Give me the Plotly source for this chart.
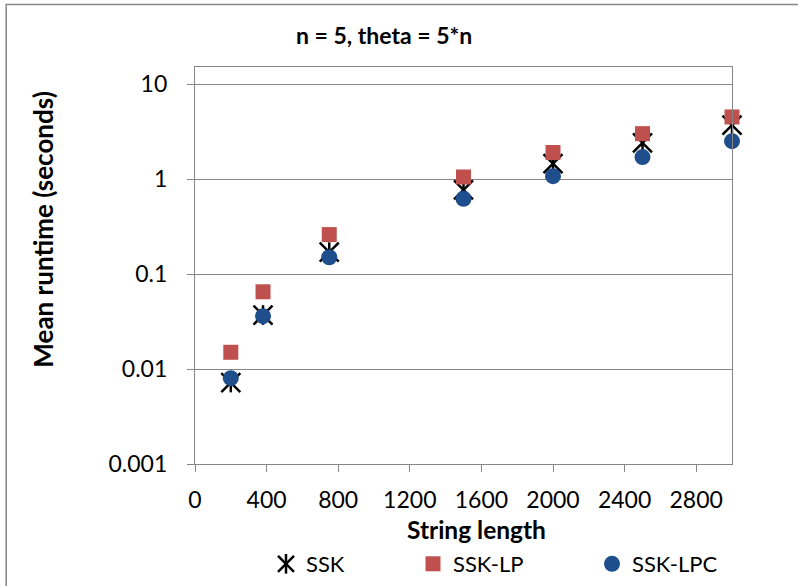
import plotly.graph_objects as go

# ---- data ----
string_length = [200, 380, 750, 1500, 2000, 2500, 3000]
ssk = [0.0072, 0.037, 0.17, 0.77, 1.45, 2.4, 3.7]
ssk_lp = [0.015, 0.065, 0.26, 1.05, 1.9, 3.0, 4.5]
ssk_lpc = [0.008, 0.036, 0.15, 0.62, 1.07, 1.7, 2.5]

x_ticks = [0, 400, 800, 1200, 1600, 2000, 2400, 2800]
y_ticks = [0.001, 0.01, 0.1, 1, 10]
y_tick_labels = ["0.001", "0.01", "0.1", "1", "10"]

title_text = "n = 5, theta = 5*n"
x_title = "String length"
y_title = "Mean runtime (seconds)"

FONT = "Lato"
GRAY = "#868686"
RED = "#C0504D"
BLUE = "#1F4E8C"

fig = go.Figure()

# SSK: Excel star = X plus vertical bar -> two overlaid marker traces
fig.add_trace(go.Scatter(
    x=string_length, y=ssk, mode="markers", name="SSK",
    marker=dict(symbol="x-thin-open", size=19, color="black",
                line=dict(color="black", width=2.5)),
    cliponaxis=False, legend="legend"))
fig.add_trace(go.Scatter(
    x=string_length, y=ssk, mode="markers", name="SSK",
    marker=dict(symbol="line-ns-open", size=14, color="black",
                line=dict(color="black", width=2.5)),
    cliponaxis=False, legend="legend4"))
fig.add_trace(go.Scatter(
    x=string_length, y=ssk_lp, mode="markers", name="SSK-LP",
    marker=dict(symbol="square", size=15, color=RED, line=dict(width=0)),
    cliponaxis=False, legend="legend2"))
fig.add_trace(go.Scatter(
    x=string_length, y=ssk_lpc, mode="markers", name="SSK-LPC",
    marker=dict(symbol="circle", size=16, color=BLUE, line=dict(width=0)),
    cliponaxis=False, legend="legend3"))

L, R, T, B = 194.5, 66, 67, 122
W, H = 798, 586
pw = W - L - R
ph = H - T - B


def px(xp):
    return (xp - L) / pw


def py(yp):
    return (H - B - yp) / ph


def cx(xp):
    return xp / W


def cy(yp):
    return 1 - yp / H


leg_font = dict(family=FONT, size=22, color="black")
leg_common = dict(orientation="h", yanchor="middle", xanchor="left",
                  xref="container", yref="container", y=cy(564),
                  bgcolor="rgba(0,0,0,0)")

fig.update_layout(
    width=W, height=H,
    margin=dict(l=L, r=R, t=T, b=B, pad=0),
    paper_bgcolor="white", plot_bgcolor="white",
    font=dict(family=FONT, size=16, color="black"),
    showlegend=True,
    legend=dict(x=cx(266), font=leg_font, **leg_common),
    legend4=dict(x=cx(266), font=dict(family=FONT, size=22, color="rgba(0,0,0,0)"),
                 **leg_common),
    legend2=dict(x=cx(413), font=leg_font, **leg_common),
    legend3=dict(x=cx(592), font=leg_font, **leg_common),
    xaxis=dict(
        range=[0, 3000], tickvals=x_ticks, ticktext=[str(v) for v in x_ticks],
        showgrid=False, zeroline=False,
        showline=True, linecolor=GRAY, linewidth=1.3, mirror=True,
        ticks="outside", ticklen=7, tickcolor=GRAY, tickwidth=1.3,
        ticklabelstandoff=8, automargin=False,
        tickfont=dict(family=FONT, size=23, color="black"),
    ),
    yaxis=dict(
        type="log", range=[-3, 1.179], tickvals=y_ticks, ticktext=y_tick_labels,
        showgrid=True, gridcolor=GRAY, gridwidth=1.3, zeroline=False,
        showline=True, linecolor=GRAY, linewidth=1.3, mirror=True,
        ticks="outside", ticklen=7, tickcolor=GRAY, tickwidth=1.3,
        ticklabelstandoff=15, automargin=False,
        tickfont=dict(family=FONT, size=23, color="black"),
    ),
    annotations=[
        dict(text="<b>" + title_text + "</b>", x=px(384), y=py(35), xref="paper", yref="paper",
             showarrow=False, xanchor="center", yanchor="middle",
             font=dict(family=FONT, size=23, color="black")),
        dict(text="<b>" + x_title + "</b>", x=px(476), y=py(529), xref="paper", yref="paper",
             showarrow=False, xanchor="center", yanchor="middle",
             font=dict(family=FONT, size=24.5, color="black")),
        dict(text="<b>" + y_title + "</b>", x=px(42), y=py(230), xref="paper", yref="paper",
             showarrow=False, xanchor="center", yanchor="middle", textangle=-90,
             font=dict(family=FONT, size=26, color="black")),
    ],
    shapes=[
        dict(type="rect", xref="paper", yref="paper",
             x0=px(5.5), x1=px(810), y0=py(600), y1=py(4.5),
             line=dict(color=GRAY, width=1.5), fillcolor="rgba(0,0,0,0)", layer="below"),
    ],
)

fig.write_html("out.html", config={"displayModeBar": False},
               post_script="document.body.style.margin='0';")
